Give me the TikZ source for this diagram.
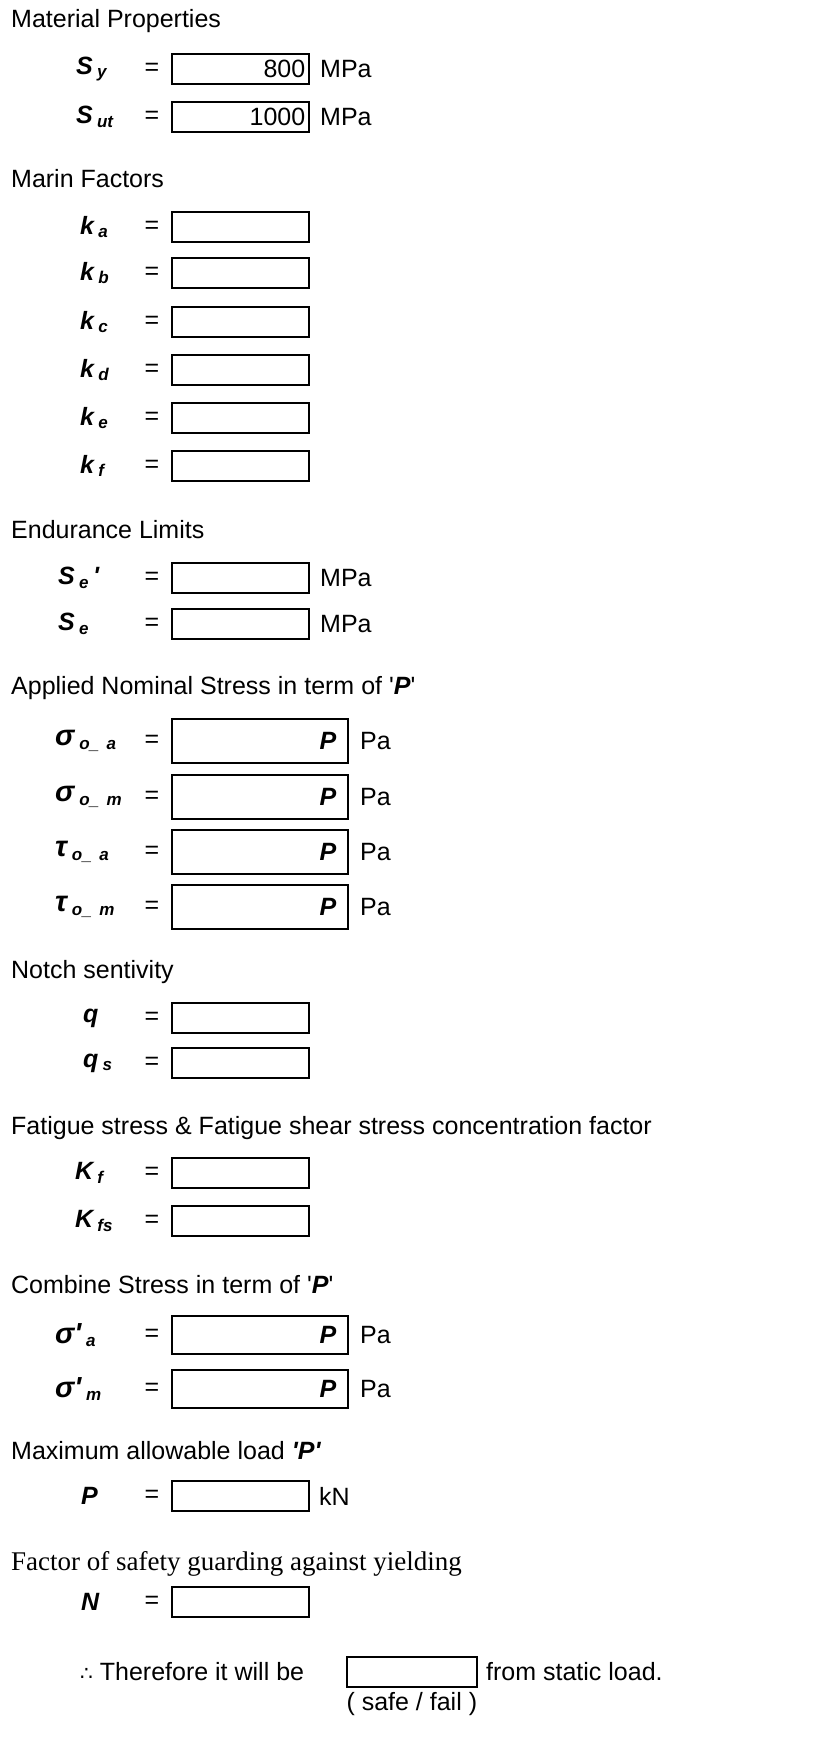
\documentclass[tikz,border=0pt]{standalone}
\usepackage{fontspec}
\setmainfont{Liberation Sans}
\newfontfamily\serifface{Liberation Serif}
\newfontfamily\symface{DejaVu Sans}
\newcommand\subsym[1]{\,\textsubscript{\fontsize{17}{20}\selectfont #1}}
\newcommand\sq{\textquotesingle}
\begin{document}
\begin{tikzpicture}[x=1pt,y=-1pt,
  head/.style={anchor=west,inner sep=0pt,font=\fontsize{25}{29}\selectfont},
  sym/.style={anchor=west,inner sep=0pt,font=\fontsize{25}{29}\selectfont\bfseries\itshape},
  eq/.style={inner sep=0pt,font=\fontsize{25}{29}\selectfont},
  box/.style={draw,line width=1.6pt,anchor=west,minimum width=137,minimum height=30,inner sep=2pt,font=\fontsize{25}{29}\selectfont},
  bigbox/.style={box,minimum width=176,minimum height=44},
  unit/.style={anchor=west,inner sep=0pt,font=\fontsize{25}{29}\selectfont}]
\useasboundingbox (0,0) rectangle (822,1748);

\node[head] (h1) at (11,21) {Material Properties};
\node[sym] (sy) at (76,69) {S\subsym{y}};
\node[eq] (e1) at (152,69) {=};
\node[box,text width=130,align=right] (b1) at (171,69) {800};
\node[unit] (u1) at (320,69) {MPa};
\node[sym] (sut) at (76,117) {S\subsym{ut}};
\node[eq] (e2) at (152,117) {=};
\node[box,text width=130,align=right] (b2) at (171,117) {1000};
\node[unit] (u2) at (320,117) {MPa};

\node[head] (h2) at (11,179) {Marin Factors};
\foreach \n/\y in {a/227,b/273,c/322,d/370,e/418,f/466}{
  \node[sym] (k\n) at (80,\y) {k\subsym{\n}};
  \node[eq] (ek\n) at (152,\y) {=};
  \node[box] (bk\n) at (171,\y) {};
}

\node[head] (h3) at (11,530) {Endurance Limits};
\node[sym] (sep) at (58,578) {S\subsym{e}\,\sq};
\node[eq] (e3) at (152,578) {=};
\node[box] (b3) at (171,578) {};
\node[unit] (u3) at (320,578) {MPa};
\node[sym] (se) at (58,624) {S\subsym{e}};
\node[eq] (e4) at (152,624) {=};
\node[box] (b4) at (171,624) {};
\node[unit] (u4) at (320,624) {MPa};

\node[head] (h4) at (11,688) {Applied Nominal Stress in term of \sq\textbf{\textit{P}}\sq};
\foreach \s/\i/\y [count=\c] in {σ/a/741,σ/m/797,τ/a/852,τ/m/907}{
  \node[sym] (st\c) at (55,\y) {\fontsize{29}{31}\selectfont\s\subsym{o\_ \,\i}};
  \node[eq] (est\c) at (152,\y) {=};
  \node[bigbox] (bst\c) at (171,\y) {};
  \node[sym,anchor=east] (pst\c) at ([xshift=-12pt]bst\c.east) {P};
  \node[unit] (ust\c) at (360,\y) {Pa};
}

\node[head] (h5) at (11,972) {Notch sentivity};
\node[sym] (q) at (83,1018) {q};
\node[eq] (e5) at (152,1018) {=};
\node[box] (b5) at (171,1018) {};
\node[sym] (qs) at (83,1063) {q\subsym{s}};
\node[eq] (e6) at (152,1063) {=};
\node[box] (b6) at (171,1063) {};

\node[head] (h6) at (11,1128) {Fatigue stress \& Fatigue shear stress concentration factor};
\node[sym] (kf) at (75,1173) {K\subsym{f}};
\node[eq] (e7) at (152,1173) {=};
\node[box] (b7) at (171,1173) {};
\node[sym] (kfs) at (75,1221) {K\subsym{fs}};
\node[eq] (e8) at (152,1221) {=};
\node[box] (b8) at (171,1221) {};

\node[head] (h7) at (11,1285) {Combine Stress in term of \sq\textbf{\textit{P}}\sq};
\foreach \i/\y [count=\c] in {a/1335,m/1389}{
  \node[sym] (cs\c) at (55,\y) {\fontsize{29}{31}\selectfont σ\sq\subsym{\i}};
  \node[eq] (ecs\c) at (152,\y) {=};
  \node[box,minimum width=176,minimum height=38] (bcs\c) at (171,\y) {};
  \node[sym,anchor=east] (pcs\c) at ([xshift=-12pt]bcs\c.east) {P};
  \node[unit] (ucs\c) at (360,\y) {Pa};
}

\node[head] (h8) at (11,1451) {Maximum allowable load \textbf{\textit{\sq P\sq}}};
\node[sym] (p) at (81,1496) {P};
\node[eq] (e9) at (152,1496) {=};
\node[box] (b9) at (171,1496) {};
\node[unit] (u9) at (319,1496) {kN};

\node[head,font=\fontsize{27}{30}\selectfont\serifface] (h9) at (11,1564) {Factor of safety guarding against yielding};
\node[sym] (n) at (81,1602) {N};
\node[eq] (e10) at (152,1602) {=};
\node[box] (b10) at (171,1602) {};

\node[unit] (th) at (80,1672) {{\symface\fontsize{20}{24}\selectfont ∴} Therefore it will be};
\node[box,minimum width=130] (bt) at (346,1672) {};
\node[unit] (fr) at (486,1672) {from static load.};
\node[eq,anchor=north] (sf) at ([yshift=-4pt]bt.south) {( safe / fail )};
\end{tikzpicture}
\end{document}
